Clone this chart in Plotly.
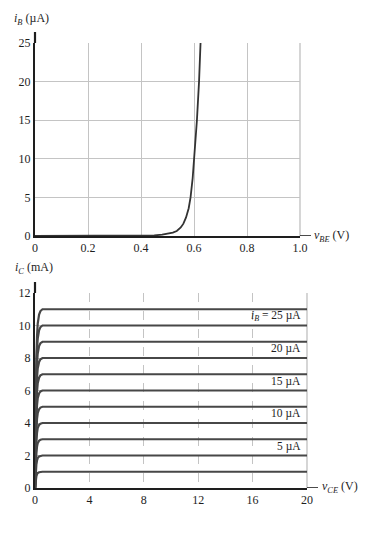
import plotly.graph_objects as go

# ---------------- data ----------------
# input characteristic iB(vBE)
vbe = [0.0, 0.2, 0.4, 0.45, 0.48, 0.5, 0.52, 0.535, 0.55, 0.56, 0.57, 0.58, 0.587, 0.595, 0.601, 0.611, 0.619, 0.625]
ib = [0.0, 0.0, 0.02, 0.08, 0.17, 0.28, 0.45, 0.65, 1.1, 1.6, 2.4, 3.6, 5.0, 7.5, 10.0, 15.0, 20.0, 25.3]
top_x_ticks = [0, 0.2, 0.4, 0.6, 0.8, 1.0]
top_x_labels = ["0", "0.2", "0.4", "0.6", "0.8", "1.0"]
top_y_ticks = [0, 5, 10, 15, 20, 25]

# output characteristics iC(vCE) for several iB
ib_levels = [2.5, 5, 7.5, 10, 12.5, 15, 17.5, 20, 22.5, 25, 27.5]          # µA
ic_levels = [1, 2, 3, 4, 5, 6, 7, 8, 9, 10, 11]                             # mA
knee_vce = [0, 0.05, 0.1, 0.15, 0.2, 0.3, 0.4, 0.55, 20]
knee_frac = [0, 0.45, 0.72, 0.85, 0.92, 0.97, 0.99, 1.0, 1.0]
bot_x_ticks = [0, 4, 8, 12, 16, 20]
bot_y_ticks = [0, 2, 4, 6, 8, 10, 12]
curve_labels = ["<i>i</i><sub><i>B</i></sub> = 25 µA", "20 µA", "15 µA", "10 µA", "5 µA"]
label_levels = [10, 8, 6, 4, 2]

# ---------------- layout helpers ----------------
W, H = 380, 544
def px(x):
    return x / W
def py(y):
    return 1 - y / H

SERIF = "Liberation Serif, Times New Roman, serif"
DARK = "#1e1e1e"
GRID = "#c4c4c4"

fig = go.Figure()

fig.add_trace(go.Scatter(x=vbe, y=ib, mode="lines", line=dict(color="#333333", width=1.8),
                         xaxis="x", yaxis="y", showlegend=False, hoverinfo="skip"))

for lvl in ic_levels:
    fig.add_trace(go.Scatter(x=knee_vce, y=[lvl * f for f in knee_frac], mode="lines",
                             line=dict(color="#474747", width=2.2),
                             xaxis="x2", yaxis="y2", showlegend=False, hoverinfo="skip"))

tickfont = dict(family=SERIF, size=12, color=DARK)

fig.update_layout(
    width=W, height=H, autosize=False,
    margin=dict(l=0, r=0, t=0, b=0),
    paper_bgcolor="white", plot_bgcolor="white",
    xaxis=dict(domain=[px(35), px(300)], range=[0, 1.0], tickvals=top_x_ticks, ticktext=top_x_labels,
               showgrid=True, gridcolor=GRID, gridwidth=1.4, zeroline=False, automargin=False,
               showline=True, linecolor=DARK, linewidth=1.6, tickfont=tickfont, anchor="y",
               ticks="", ticklen=0),
    yaxis=dict(domain=[py(236), py(43)], range=[0, 25], tickvals=top_y_ticks,
               showgrid=True, gridcolor=GRID, gridwidth=1.4, zeroline=False, automargin=False,
               showline=True, linecolor=DARK, linewidth=2.2, tickfont=tickfont, anchor="x",
               ticks="", ticklen=0),
    xaxis2=dict(domain=[px(35), px(307)], range=[0, 20], tickvals=bot_x_ticks,
                showgrid=True, gridcolor=GRID, gridwidth=1.4, griddash="dash", zeroline=False, automargin=False,
                showline=True, linecolor=DARK, linewidth=1.6, tickfont=tickfont, anchor="y2",
                ticks="", ticklen=0),
    yaxis2=dict(domain=[py(488), py(293)], range=[0, 12], tickvals=bot_y_ticks,
                showgrid=True, gridcolor=GRID, gridwidth=1.4, zeroline=False, automargin=False,
                showline=True, linecolor=DARK, linewidth=2.2, tickfont=tickfont, anchor="x2",
                ticks="", ticklen=0),
)

shapes = [
    # axis line extensions
    dict(type="line", xref="x domain", yref="y", x0=1, x1=1 + 11 / 265, y0=0, y1=0, line=dict(color=DARK, width=1.6)),
    dict(type="line", xref="x domain", yref="y domain", x0=0, x1=0, y0=1, y1=1 + 11 / 193, line=dict(color=DARK, width=2.2)),
    dict(type="line", xref="x2 domain", yref="y2", x0=1, x1=1 + 11 / 272, y0=0, y1=0, line=dict(color=DARK, width=1.6)),
    dict(type="line", xref="x2 domain", yref="y2 domain", x0=0, x1=0, y0=1, y1=1 + 11 / 195, line=dict(color=DARK, width=2.2)),
    # solid border gridline at right end
    dict(type="line", xref="x domain", yref="y domain", x0=1, x1=1, y0=0, y1=1, line=dict(color=GRID, width=1.4), layer="below"),
    dict(type="line", xref="x2 domain", yref="y2 domain", x0=1, x1=1, y0=0, y1=1, line=dict(color=GRID, width=1.4), layer="below"),
]
fig.update_layout(shapes=shapes)

annotations = [
    dict(text="<i>i</i><sub><i>B</i></sub> (µA)", xref="paper", yref="paper", x=px(12), y=py(19),
         xanchor="left", yanchor="middle", showarrow=False, font=dict(family=SERIF, size=12, color=DARK)),
    dict(text="<i>v</i><sub><i>BE</i></sub> (V)", xref="paper", yref="paper", x=px(312), y=py(236),
         xanchor="left", yanchor="middle", showarrow=False, font=dict(family=SERIF, size=12, color=DARK)),
    dict(text="<i>i</i><sub><i>C</i></sub> (mA)", xref="paper", yref="paper", x=px(13), y=py(268),
         xanchor="left", yanchor="middle", showarrow=False, font=dict(family=SERIF, size=12, color=DARK)),
    dict(text="<i>v</i><sub><i>CE</i></sub> (V)", xref="paper", yref="paper", x=px(320), y=py(487),
         xanchor="left", yanchor="middle", showarrow=False, font=dict(family=SERIF, size=12, color=DARK)),
]
for txt, lvl in zip(curve_labels, label_levels):
    annotations.append(dict(text=txt, xref="x2", yref="y2", x=19.7, y=lvl, xanchor="right", yanchor="bottom",
                            yshift=1, showarrow=False, font=dict(family=SERIF, size=11.5, color=DARK)))
fig.update_layout(annotations=annotations)

fig.write_html("out.html", config={"displayModeBar": False},
               post_script="document.body.style.margin='0';document.body.style.overflow='hidden';")
